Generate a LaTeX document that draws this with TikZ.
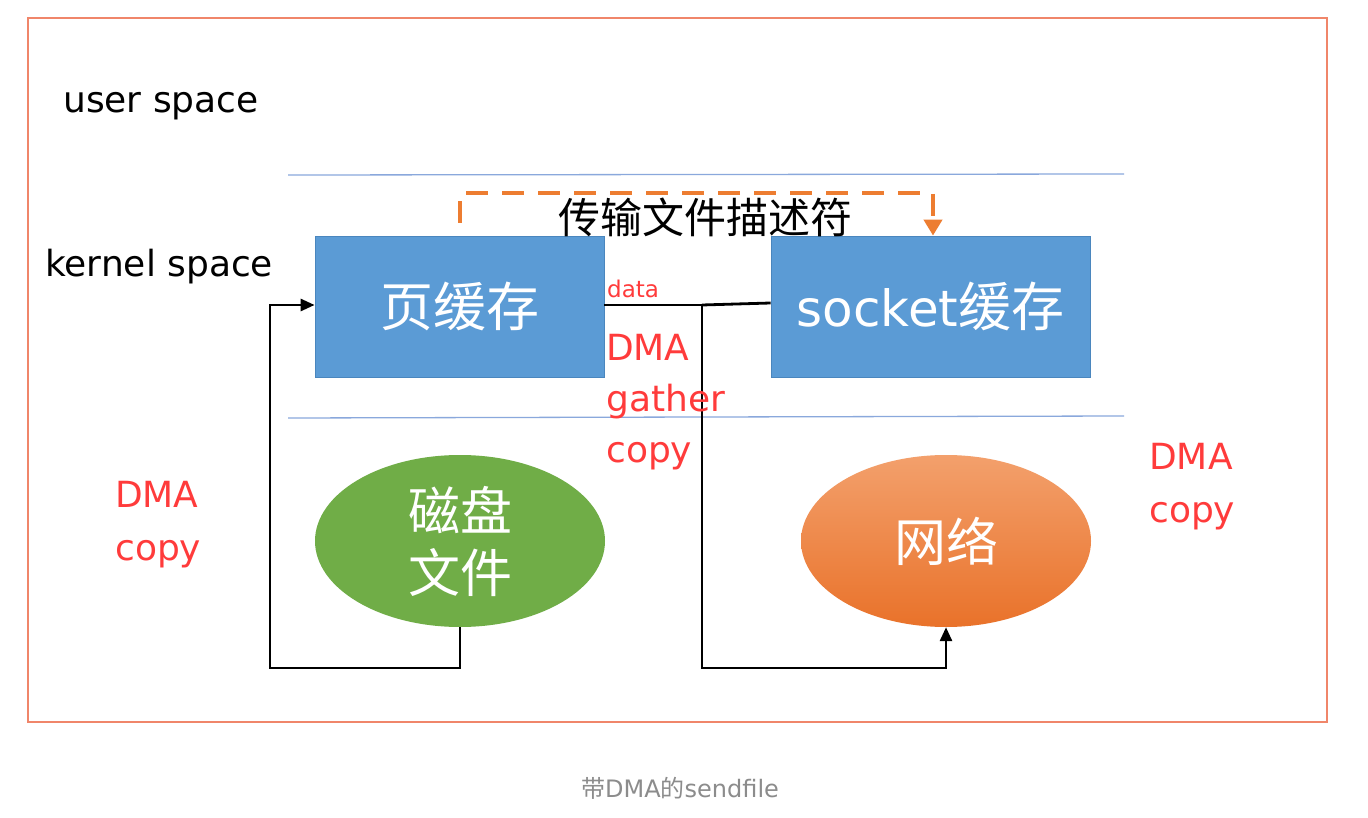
\documentclass[tikz,border=0pt]{standalone}
\usepackage{fontspec}
\setmainfont{DejaVu Sans}
\newfontfamily\cjk{Noto Sans CJK SC}
\usetikzlibrary{arrows.meta,shapes.geometric}
\definecolor{frame}{HTML}{F0866A}
\definecolor{sepline}{HTML}{8AA8DC}
\definecolor{boxblue}{HTML}{5B9BD5}
\definecolor{boxedge}{HTML}{4A86BE}
\definecolor{diskgreen}{HTML}{70AD47}
\definecolor{netorangeA}{HTML}{F3A06C}
\definecolor{netorangeB}{HTML}{E9722A}
\definecolor{dashorange}{HTML}{ED7D31}
\definecolor{lblred}{HTML}{FF3B3B}
\definecolor{capgray}{HTML}{8C8C8C}
\tikzset{
  bufbox/.style={rectangle, fill=boxblue, draw=boxedge, line width=0.8pt, minimum width=289pt, minimum height=141pt, inner sep=0pt, text=white, font=\fontsize{50}{60}\selectfont},
  devell/.style={ellipse, minimum width=290pt, minimum height=172pt, inner sep=0pt, text=white, font=\fontsize{52}{62}\selectfont\cjk, align=center},
  spacelbl/.style={anchor=base west, inner sep=0pt, font=\fontsize{36}{40}\selectfont},
  redlbl/.style={anchor=base west, inner sep=0pt, text=lblred, font=\fontsize{36}{44}\selectfont},
  flow/.style={draw=black, line width=2.8pt},
  tip/.style={-{Triangle[length=14pt,width=12pt]}},
  sepl/.style={draw=sepline, line width=1.3pt}
}
\begin{document}
\begin{tikzpicture}[x=1pt,y=-1pt]
\useasboundingbox (0,0) rectangle (1368,818);
\fill[white] (0,0) rectangle (1368,818);
% frame
\draw[frame, line width=1.3pt] (28,18) rectangle (1327,722);
% separator lines
\draw[sepl] (288,175) -- (1124,174);
\draw[sepl] (288,418) -- (1124,416);
% space labels
\node[spacelbl] (us) at (63,113) {user space};
\node[spacelbl] (ks) at (45,277) {kernel space};
% buffers
\node[bufbox] (pc) at (459.5,306.5) {{\cjk\fontsize{53}{60}\selectfont 页缓存}};
\node[bufbox, minimum width=319pt] (sc) at (930.5,306.5) {socket{\cjk\fontsize{53}{60}\selectfont 缓存}};
% devices
\node[devell, fill=diskgreen] (disk) at (460,541) {磁盘\\文件};
\node[devell, top color=netorangeA, bottom color=netorangeB] (net) at (946,541) {网络};
% dashed descriptor arrow
\coordinate (ds) at (460,223);
\draw[dashorange, line width=4pt, dash pattern=on 22pt off 14pt, -{Triangle[length=16pt,width=18pt]}]
  (ds) -- (460,193) -- (933,193) -- (sc.north -| 933,0);
\node[anchor=base, inner sep=0pt, font=\fontsize{42}{46}\selectfont\cjk] (fd) at (705,234) {传输文件描述符};
% data label
\node[anchor=base west, inner sep=0pt, text=lblred, font=\fontsize{23}{26}\selectfont] (data) at (607,298) {data};
% DMA gather copy path
\coordinate (j) at (702,305);
\draw[flow] (pc.east |- j) -- (j);
\draw[flow] (j) -- (sc.west |- 0,303);
\draw[flow, tip] (j) -- (702,668) -- (net.south |- 0,668) -- (net.south);
% disk to page cache
\draw[flow, tip] (disk.south) -- (disk.south |- 0,668) -- (270,668) -- (270,305) -- (pc.west |- 0,305);
% red labels
\node[redlbl] (dg1) at (606,360) {DMA};
\node[redlbl] (dg2) at (606,411) {gather};
\node[redlbl] (dg3) at (606,462) {copy};
\node[redlbl] (dl1) at (115,507) {DMA};
\node[redlbl] (dl2) at (115,560) {copy};
\node[redlbl] (dr1) at (1149,469) {DMA};
\node[redlbl] (dr2) at (1149,522) {copy};
% caption
\node[anchor=base, inner sep=0pt, text=capgray, font=\fontsize{24}{28}\selectfont] (cap) at (680,797) {{\cjk 带}DMA{\cjk 的}sendfile};
\end{tikzpicture}
\end{document}
